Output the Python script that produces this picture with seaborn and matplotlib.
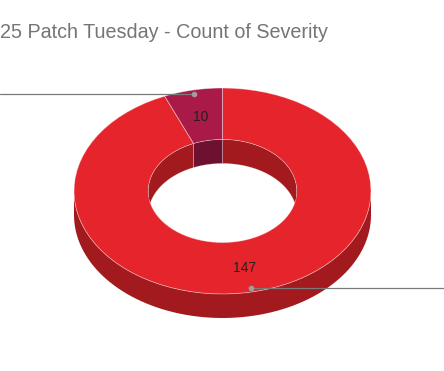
import numpy as np
import matplotlib
matplotlib.use("Agg")
import matplotlib.pyplot as plt
from matplotlib.patches import Polygon, Ellipse
import seaborn as sns

# data (Google Sheets order: clockwise from 12 o'clock)
severity = ["Important", "Critical"]
counts = [147, 10]
top_colors = ["#E5242B", "#A91A48"]
side_colors = ["#A2191E", "#6E1131"]

title = "25 Patch Tuesday - Count of Severity"

sns.set_theme(style="white")
plt.rcParams['font.family'] = ['Liberation Sans', 'DejaVu Sans']

fig = plt.figure(figsize=(4.44, 3.71), dpi=100)
ax = fig.add_axes([0, 0, 1, 1])
ax.set_xlim(0, 444)
ax.set_ylim(371, 0)
ax.axis("off")

# donut geometry (pixels)
cx, cy = 222.5, 191
rx, ry = 148.5, 103
hole = 0.5
depth = 24


def pts(t0, t1, r, dy=0, n=80):
    t = np.radians(np.linspace(t0, t1, n))
    return np.column_stack([cx + rx * r * np.sin(t), cy - ry * r * np.cos(t) + dy])


def overlap(a0, a1, b0, b1):
    lo, hi = max(a0, b0), min(a1, b1)
    return (lo, hi) if hi > lo else None


total = sum(counts)
bounds = np.cumsum([0] + counts) / total * 360

# outer side wall (front half)
for i in range(len(counts)):
    seg = overlap(bounds[i], bounds[i + 1], 90, 270)
    if seg:
        poly = np.vstack([pts(seg[0], seg[1], 1), pts(seg[1], seg[0], 1, depth)])
        ax.add_patch(Polygon(poly, closed=True, facecolor=side_colors[i], edgecolor="none"))

# top faces
for i in range(len(counts)):
    poly = np.vstack([pts(bounds[i], bounds[i + 1], 1), pts(bounds[i + 1], bounds[i], hole)])
    ax.add_patch(Polygon(poly, closed=True, facecolor=top_colors[i],
                         edgecolor=(1, 1, 1, 0.45), linewidth=0.6))

# inner wall (back half), clipped to hole
clip = Ellipse((cx, cy), 2 * rx * hole, 2 * ry * hole, transform=ax.transData)
for i in range(len(counts)):
    for b0, b1 in [(0, 90), (270, 360)]:
        seg = overlap(bounds[i], bounds[i + 1], b0, b1)
        if seg:
            poly = np.vstack([pts(seg[0], seg[1], hole), pts(seg[1], seg[0], hole, depth)])
            p = Polygon(poly, closed=True, facecolor=side_colors[i],
                        edgecolor=(1, 1, 1, 0.35), linewidth=0.5)
            ax.add_patch(p)
            p.set_clip_path(clip)

# labels with leader lines
for i in range(len(counts)):
    mid = (bounds[i] + bounds[i + 1]) / 2
    lx, ly = pts(mid, mid, (1 + hole) / 2, n=1)[0]
    ax.text(lx, ly + 1.5, str(counts[i]), ha="center", va="center", fontsize=10, color="#222222")
    dx, dy = pts(mid, mid, 0.96, n=1)[0]
    edge = 0 if dx < cx else 444
    ax.plot([dx, edge], [dy, dy], color="#7a7a7a", linewidth=0.9)
    ax.plot(dx, dy, "o", color="#9e9e9e", markersize=3)

ax.text(0, 38, title, ha="left", va="baseline", fontsize=14.2, color="#757575")

fig.savefig("out.png", dpi=100)
